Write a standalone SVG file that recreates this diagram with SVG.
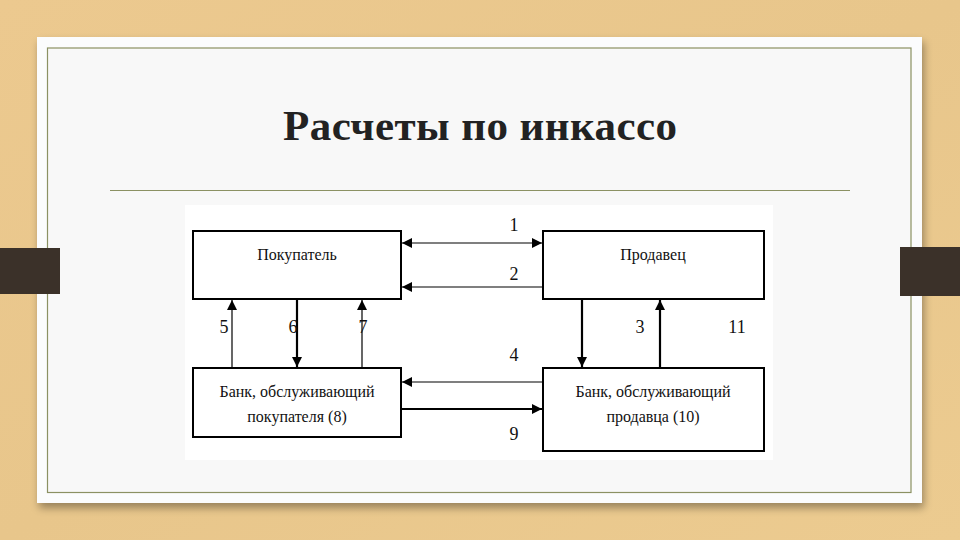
<svg xmlns="http://www.w3.org/2000/svg" width="960" height="540" viewBox="0 0 960 540">
<defs>
<marker id="ah" viewBox="0 0 10 10" refX="10" refY="5" markerWidth="10" markerHeight="10" markerUnits="userSpaceOnUse" orient="auto-start-reverse">
<path d="M0,0 L10,5 L0,10 z" fill="#000"/>
</marker>
<linearGradient id="wood" x1="0" y1="0" x2="1" y2="1">
<stop offset="0" stop-color="#ecc98f"/>
<stop offset="0.5" stop-color="#e8c68b"/>
<stop offset="1" stop-color="#eccb90"/>
</linearGradient>
<filter id="sh" x="-5%" y="-5%" width="110%" height="115%">
<feGaussianBlur in="SourceAlpha" stdDeviation="4"/>
<feOffset dx="2" dy="5"/>
<feComponentTransfer><feFuncA type="linear" slope="0.35"/></feComponentTransfer>
<feMerge><feMergeNode/><feMergeNode in="SourceGraphic"/></feMerge>
</filter>
</defs>
<style>
.box{fill:none;stroke:#000;stroke-width:2}
.lbl{font-family:"Liberation Serif","Times New Roman",serif;font-size:16px;fill:#111;text-anchor:middle}
.num{font-family:"Liberation Serif","Times New Roman",serif;font-size:18px;fill:#111;text-anchor:middle}
.thin{stroke:#000;stroke-width:1.2;fill:none}
.thick{stroke:#000;stroke-width:2.2;fill:none}
</style>
<rect x="0" y="0" width="960" height="540" fill="url(#wood)"/>
<rect x="37" y="37" width="885" height="466" fill="#fbfcfd" filter="url(#sh)"/>
<rect x="47.5" y="48" width="863.5" height="444.5" fill="#f8f8f8" stroke="#8b9163" stroke-width="1.2"/>
<rect x="0" y="248" width="60" height="46" fill="#3b3129"/>
<rect x="900" y="247" width="60" height="49" fill="#3b3129"/>
<text x="480" y="140" font-family="Liberation Serif,'Times New Roman',serif" font-weight="bold" font-size="43" fill="#222" text-anchor="middle" textLength="394" lengthAdjust="spacing">Расчеты по инкассо</text>
<line x1="110" y1="190.5" x2="850" y2="190.5" stroke="#8b9163" stroke-width="1"/>
<rect x="185" y="205" width="588" height="255" fill="#ffffff"/>
<g id="buyer">
<rect class="box" x="193" y="231" width="208" height="68"/>
<text class="lbl" x="297" y="260">Покупатель</text>
</g>
<g id="seller">
<rect class="box" x="543" y="231" width="221" height="68"/>
<text class="lbl" x="653" y="260">Продавец</text>
</g>
<g id="buyer-bank">
<rect class="box" x="193" y="368" width="208" height="69"/>
<text class="lbl" x="297" y="397">Банк, обслуживающий</text>
<text class="lbl" x="297" y="422">покупателя (8)</text>
</g>
<g id="seller-bank">
<rect class="box" x="543" y="368" width="221" height="83"/>
<text class="lbl" x="653" y="397">Банк, обслуживающий</text>
<text class="lbl" x="653" y="422">продавца (10)</text>
</g>
<g id="connectors">
<line class="thin" x1="402" y1="243" x2="542" y2="243" marker-start="url(#ah)" marker-end="url(#ah)"/>
<line class="thin" x1="543" y1="287" x2="402" y2="287" marker-end="url(#ah)"/>
<line class="thin" x1="543" y1="382" x2="402" y2="382" marker-end="url(#ah)"/>
<line class="thick" x1="401" y1="409" x2="542" y2="409" marker-end="url(#ah)"/>
<line class="thin" x1="232" y1="368" x2="232" y2="300" marker-end="url(#ah)"/>
<line class="thick" x1="297" y1="299" x2="297" y2="367" marker-end="url(#ah)"/>
<line class="thin" x1="362" y1="368" x2="362" y2="300" marker-end="url(#ah)"/>
<line class="thick" x1="582" y1="299" x2="582" y2="367" marker-end="url(#ah)"/>
<line class="thick" x1="660" y1="368" x2="660" y2="300" marker-end="url(#ah)"/>
</g>
<g id="labels">
<text class="num" x="514" y="231">1</text>
<text class="num" x="514" y="280">2</text>
<text class="num" x="640" y="333">3</text>
<text class="num" x="514" y="361">4</text>
<text class="num" x="224" y="333">5</text>
<text class="num" x="293" y="333">6</text>
<text class="num" x="363" y="333">7</text>
<text class="num" x="514" y="440">9</text>
<text class="num" x="737" y="333">11</text>
</g>
</svg>
